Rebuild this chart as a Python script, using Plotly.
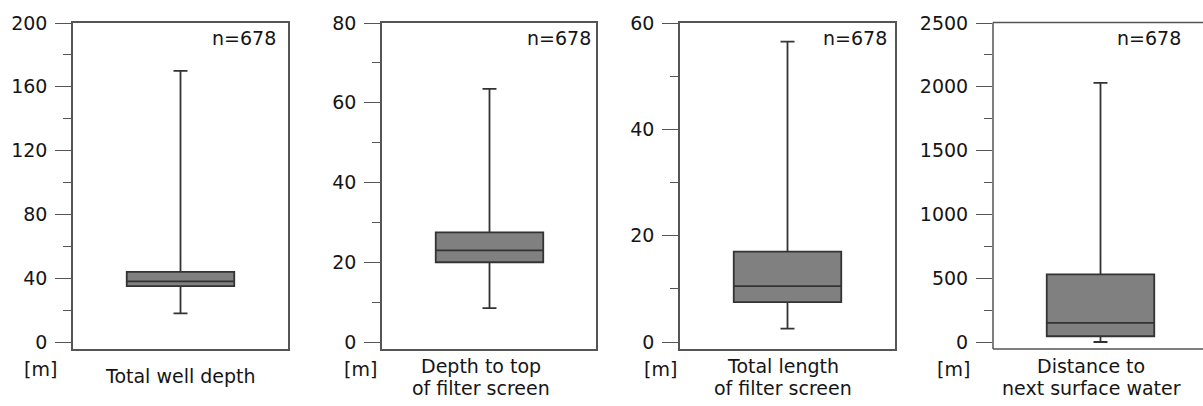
import plotly.graph_objects as go

# Summary statistics of the 678 wells (box plot five-number summaries)
titles = [["Total well depth"],
          ["Depth to top", "of filter screen"],
          ["Total length", "of filter screen"],
          ["Distance to", "next surface water"]]
lower_whisker = [18, 8.5, 2.5, 0]
q1_values = [35, 20, 7.5, 45]
medians = [38, 23, 10.5, 150]
q3_values = [44, 27.5, 17, 530]
upper_whisker = [170, 63.5, 56.5, 2030]
n_label = "n=678"
unit_label = "[m]"

# Axis scales per panel
y_max = [200, 80, 60, 2500]
major_step = [40, 20, 20, 500]
minor_step = [20, 10, 10, 250]

W, H = 1203, 406
LINE = "#555555"
TEXT = "#151515"
FONT = "DejaVu Sans"

# Panel frames in pixels (left, right)
frames = [(73, 288), (382, 596), (680, 895), (993, 1203)]
frame_top, frame_bottom, zero_px = 22.5, 349, 342
unit_px = 107.5  # pixels per x unit

fig = go.Figure()

def px(x):
    return x / W

def py(y):
    return 1 - y / H

for i in range(4):
    ax = "" if i == 0 else str(i + 1)
    left, right = frames[i]
    last = (i == 3)
    fig.add_trace(go.Box(
        x=[0], q1=[q1_values[i]], median=[medians[i]], q3=[q3_values[i]],
        lowerfence=[lower_whisker[i]], upperfence=[upper_whisker[i]],
        width=1.0, whiskerwidth=0.13,
        fillcolor="#808080", line=dict(color="#333333", width=1.8),
        xaxis="x" + ax, yaxis="y" + ax, showlegend=False, hoverinfo="skip",
    ))
    k = (zero_px - 23) / y_max[i]
    yr = [-(frame_bottom - zero_px) / k, y_max[i] + 0.5 / k]
    xr = [-1, -1 + (right - left) / unit_px]
    fig.update_layout(**{
        "xaxis" + ax: dict(domain=[px(left), px(right)], range=xr,
                           showline=(not last), mirror=(not last), linecolor=LINE, linewidth=1.5,
                           showticklabels=False, ticks="", showgrid=False, zeroline=False,
                           automargin=False, anchor="y" + ax),
        "yaxis" + ax: dict(domain=[py(frame_bottom), py(frame_top)], range=yr,
                           showline=(not last), mirror=(not last), linecolor=LINE, linewidth=1.5,
                           ticks="outside", ticklen=16, tickwidth=1.3, tickcolor=LINE,
                           tick0=0, dtick=major_step[i], ticklabelstandoff=4,
                           tickfont=dict(family=FONT, size=19, color=TEXT),
                           minor=dict(ticks="outside", ticklen=8, tickwidth=1.3,
                                      tickcolor=LINE, tick0=0, dtick=minor_step[i],
                                      showgrid=False),
                           showgrid=False, zeroline=False, automargin=False,
                           anchor="x" + ax),
    })

# The last frame is open on the right: it runs off the side of the page
x_left4 = px(frames[3][0])
for y0, y1, x1 in [(py(frame_top), py(frame_top), 1.0),
                   (py(frame_bottom), py(frame_bottom), 1.0),
                   (py(frame_bottom), py(frame_top), x_left4)]:
    fig.add_shape(type="line", xref="paper", yref="paper",
                  x0=x_left4, x1=x1, y0=y0, y1=y1,
                  line=dict(color=LINE, width=1.5))

annotations = []
n_right = [278, 593, 889, 1183]
unit_x = [40, 360, 660, 953]
title_x = [180, 481, 783, 1091]
for i in range(4):
    annotations.append(dict(text=n_label, x=px(n_right[i]), y=py(38), xref="paper", yref="paper",
                            xanchor="right", yanchor="middle", showarrow=False,
                            font=dict(family=FONT, size=19, color=TEXT)))
    annotations.append(dict(text=unit_label, x=px(unit_x[i]), y=py(369), xref="paper", yref="paper",
                            xanchor="center", yanchor="middle", showarrow=False,
                            font=dict(family=FONT, size=19, color=TEXT)))
    lines = titles[i]
    ys = [376] if len(lines) == 1 else [366, 388]
    for line, yy in zip(lines, ys):
        annotations.append(dict(text=line, x=px(title_x[i]), y=py(yy), xref="paper", yref="paper",
                                xanchor="center", yanchor="middle", showarrow=False,
                                font=dict(family=FONT, size=19, color=TEXT)))

fig.update_layout(width=W, height=H,
                  margin=dict(l=0, r=0, t=0, b=0, pad=0, autoexpand=False),
                  paper_bgcolor="white", plot_bgcolor="white",
                  annotations=annotations, showlegend=False)

fig.write_html("out.html")
